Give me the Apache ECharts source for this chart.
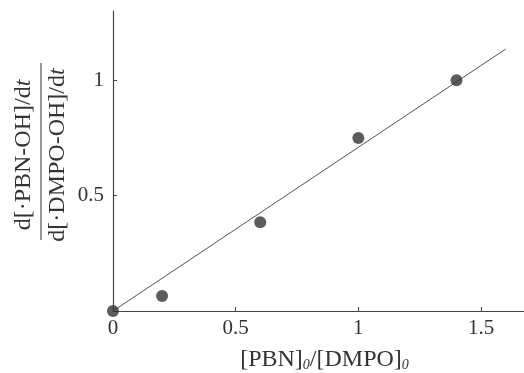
<!DOCTYPE html>
<html><head><meta charset="utf-8">
<script src="https://cdn.jsdelivr.net/npm/echarts@6/dist/echarts.min.js"></script>
<style>html,body{margin:0;padding:0;background:#fff}#c{width:524px;height:373px}</style>
</head><body><div id="c"></div>
<script>
const ratioX = [0, 0.2, 0.6, 1.0, 1.4];
const ratioY = [0, 0.065, 0.385, 0.75, 1.0];
const fitX = [0, 1.6];
const fitY = [0, 1.135];
const xTicks = [0, 0.5, 1, 1.5];
const yTicks = [0.5, 1];
const xTitle = '[PBN]{s|0}/[DMPO]{s|0}';
const yNum = 'd[·PBN-OH]/d';
const yDen = 'd[·DMPO-OH]/d';

const font = '"Liberation Serif", "DejaVu Serif", serif';
const ink = '#333';
const chart = echarts.init(document.getElementById('c'));
chart.setOption({
  backgroundColor: '#fff',
  animation: false,
  grid: { left: 113, right: 0, top: 11, bottom: 62, containLabel: false, outerBoundsMode: 'none' },
  xAxis: {
    type: 'value', min: 0, max: 1.675,
    axisLine: { lineStyle: { color: '#444', width: 1.2 } },
    axisTick: { inside: true, length: 4, customValues: xTicks.slice(1), lineStyle: { color: '#444' } },
    axisLabel: { customValues: xTicks, formatter: v => String(v), fontFamily: font, fontSize: 21, color: ink, margin: 7 },
    splitLine: { show: false },
    name: xTitle, nameLocation: 'middle', nameGap: 37,
    nameTextStyle: { fontFamily: font, fontSize: 24, color: ink, padding: [0, 0, 0, 12],
      rich: { s: { fontFamily: font, fontSize: 14, fontStyle: 'italic', color: ink, verticalAlign: 'bottom', padding: [10, 0, 0, 0] } } }
  },
  yAxis: {
    type: 'value', min: 0, max: 1.3,
    axisLine: { lineStyle: { color: '#444', width: 1.2 } },
    axisTick: { inside: true, length: 4, customValues: yTicks, lineStyle: { color: '#444' } },
    axisLabel: { customValues: yTicks, formatter: v => String(v), fontFamily: font, fontSize: 21, color: ink, margin: 9 },
    splitLine: { show: false }
  },
  graphic: [{
    type: 'group', x: 41, y: 151.5, rotation: Math.PI / 2,
    children: [
      { type: 'text', x: -3.5, y: -5, style: { text: yNum + '{i|t}', font: '24px ' + font, fill: ink, align: 'center', verticalAlign: 'bottom',
        rich: { i: { fontStyle: 'italic', fontFamily: font, fontSize: 24, fill: ink } } } },
      { type: 'line', shape: { x1: -88.5, y1: 0, x2: 88.5, y2: 0 }, style: { stroke: ink, lineWidth: 1 } },
      { type: 'text', x: -3.5, y: 5, style: { text: yDen + '{i|t}', font: '24px ' + font, fill: ink, align: 'center', verticalAlign: 'top',
        rich: { i: { fontStyle: 'italic', fontFamily: font, fontSize: 24, fill: ink } } } }
    ]
  }],
  series: [
    { type: 'line', data: fitX.map((x, i) => [x, fitY[i]]), symbol: 'none', lineStyle: { color: '#555', width: 1 }, z: 1 },
    { type: 'scatter', data: ratioX.map((x, i) => [x, ratioY[i]]), symbolSize: 12, itemStyle: { color: '#333' }, z: 3 }
  ]
});
</script></body></html>
